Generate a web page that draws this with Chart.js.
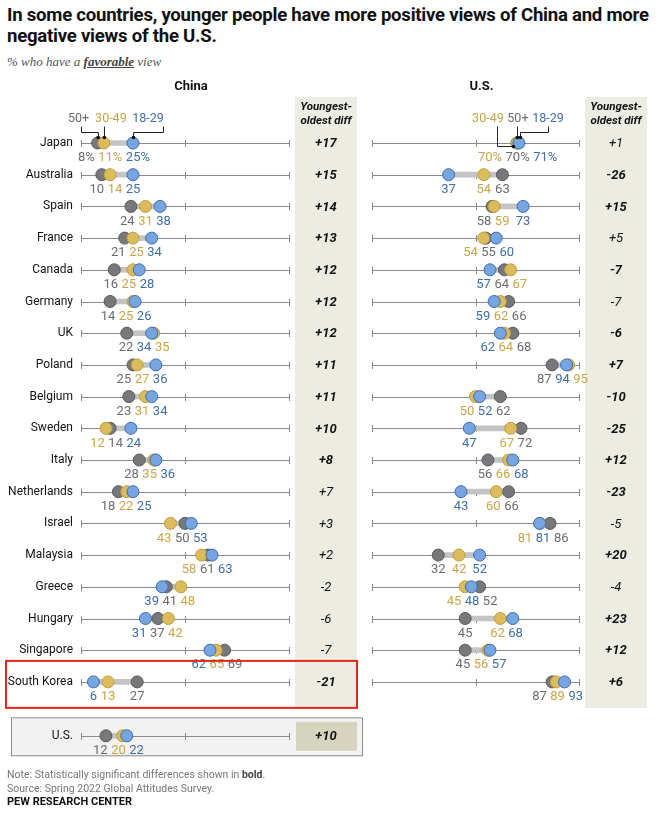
<!DOCTYPE html>
<html>
<head>
<meta charset="utf-8">
<script src="https://cdn.jsdelivr.net/npm/chart.js@4/dist/chart.umd.min.js"></script>
<style>
  body { margin: 0; background: #fff; width: 658px; height: 813px; position: relative; overflow: hidden; font-family: Roboto, "Liberation Sans", sans-serif; }
  #title { position: absolute; left: 7px; top: 5px; font-size: 18.6px; font-weight: bold; line-height: 21px; color: #111; letter-spacing: -0.25px; white-space: nowrap; }
  #subtitle { position: absolute; left: 7px; top: 54px; font-family: "Liberation Serif", "DejaVu Serif", serif; font-style: italic; font-size: 13px; color: #555; }
  #subtitle b { text-decoration: underline; color: #444; }
  #notes { position: absolute; left: 7px; top: 768px; font-size: 10.5px; line-height: 13.5px; color: #777; }
  #notes .pew { color: #111; font-weight: bold; font-size: 11px; }
  #notes b { color: #444; }
  canvas { position: absolute; top: 0; }
  #chinaChart { left: 0; }
  #usChart { left: 365px; }
</style>
</head>
<body>
<div id="title">In some countries, younger people have more positive views of China and more<br>negative views of the U.S.</div>
<div id="subtitle">% who have a <b>favorable</b> view</div>
<canvas id="chinaChart" width="365" height="813"></canvas>
<canvas id="usChart" width="293" height="813"></canvas>
<div id="notes">Note: Statistically significant differences shown in <b>bold</b>.<br>Source: Spring 2022 Global Attitudes Survey.<br><span class="pew">PEW RESEARCH CENTER</span></div>

<script>
// Países (filas) - el último lado China incluye la fila de EE.UU.
const countries = ['Japan', 'Australia', 'Spain', 'France', 'Canada', 'Germany', 'UK', 'Poland', 'Belgium',
  'Sweden', 'Italy', 'Netherlands', 'Israel', 'Malaysia', 'Greece', 'Hungary', 'Singapore', 'South Korea', 'U.S.'];

// Opinión favorable de China por edad
const chinaOld   = [8, 10, 24, 21, 16, 14, 22, 25, 23, 14, 28, 18, 50, 61, 41, 37, 69, 27, 12];   // 50+
const chinaMid   = [11, 14, 31, 25, 25, 25, 35, 27, 31, 12, 35, 22, 43, 58, 48, 42, 65, 13, 20];  // 30-49
const chinaYoung = [25, 25, 38, 34, 28, 26, 34, 36, 34, 24, 36, 25, 53, 63, 39, 31, 62, 6, 22];   // 18-29
const chinaDiff  = ['+17', '+15', '+14', '+13', '+12', '+12', '+12', '+11', '+11', '+10', '+8', '+7', '+3', '+2', '-2', '-6', '-7', '-21', '+10'];
const chinaSig   = [1, 1, 1, 1, 1, 1, 1, 1, 1, 1, 1, 0, 0, 0, 0, 0, 0, 1, 1];

// Opinión favorable de EE.UU. por edad
const usOld   = [70, 63, 58, 55, 64, 66, 68, 87, 62, 72, 56, 66, 86, 32, 52, 45, 45, 87];
const usMid   = [70, 54, 59, 54, 67, 62, 64, 95, 50, 67, 66, 60, 81, 42, 45, 62, 56, 89];
const usYoung = [71, 37, 73, 60, 57, 59, 62, 94, 52, 47, 68, 43, 81, 52, 48, 68, 57, 93];
const usDiff  = ['+1', '-26', '+15', '+5', '-7', '-7', '-6', '+7', '-10', '-25', '+12', '-23', '-5', '+20', '-4', '+23', '+12', '+6'];
const usSig   = [0, 1, 1, 0, 1, 0, 1, 1, 1, 1, 1, 1, 0, 1, 0, 1, 1, 1];

const axisTicks = [0, 50, 100];
const ageGroups = ['50+', '30-49', '18-29'];

// estilos
const ROW_H = 31.7, ROW0 = 143;
const Y_MIN = -3, Y_MAX = 20;
const US_ROW = 18.7; // fila separada de EE.UU.
const rowPos = i => (i < 18 ? i : US_ROW);

const GRAY = { fill: '#77787b', border: '#58595b', text: '#6b6c6f' };
const GOLD = { fill: '#dcbb5c', border: '#bf9d3e', text: '#c9a449' };
const BLUE = { fill: '#77a5df', border: '#3c6cad', text: '#3f6ea9' };
const BAND = '#ecece3';
const FONT = 'Roboto, "Liberation Sans", sans-serif';

function spread(items, gap) {
  items.sort((a, b) => a.x - b.x || a.rank - b.rank);
  items.forEach(it => it.p = it.x);
  for (let k = 0; k < 80; k++) {
    for (let j = 0; j < items.length - 1; j++) {
      const a = items[j], b = items[j + 1];
      const need = (a.w + b.w) / 2 + gap - (b.p - a.p);
      if (need > 0) { a.p -= need / 2; b.p += need / 2; }
    }
  }
}

function buildChart(canvasId, cfg) {
  const n = cfg.old.length;
  const idx = [...Array(n).keys()];

  const dots = (vals, col, order) => ({
    type: 'scatter',
    data: vals.map((v, i) => ({ x: v, y: rowPos(i) })),
    backgroundColor: col.fill,
    borderColor: col.border,
    borderWidth: 1,
    pointRadius: 6,
    pointHoverRadius: 6,
    order: order,
    clip: false
  });

  const rowsPlugin = {
    id: 'rows',
    beforeDatasetsDraw(chart) {
      const { ctx, chartArea } = chart;
      const x = chart.scales.x, y = chart.scales.y;
      ctx.save();
      // caja de EE.UU.
      if (cfg.usBox) {
        ctx.fillStyle = '#f2f2f2';
        ctx.strokeStyle = '#8c8c8c';
        ctx.lineWidth = 1;
        const top = y.getPixelForValue(US_ROW) - 18;
        ctx.fillRect(11.5, top, 351, 38);
        ctx.strokeRect(11.5, top, 351, 38);
      }
      // columna de diferencia
      const bx = chartArea.right + 6;
      ctx.fillStyle = BAND;
      const bandTop = 97;
      const bandBottom = y.getPixelForValue(17) + 26;
      ctx.fillRect(bx, bandTop, 62, bandBottom - bandTop);
      if (cfg.usBox) {
        ctx.fillStyle = '#d6d4bf';
        const yy = y.getPixelForValue(US_ROW);
        ctx.fillRect(bx + 1, yy - 14, 61, 29);
      }
      // ejes por fila
      ctx.strokeStyle = '#8a8a8a';
      ctx.lineWidth = 1;
      idx.forEach(i => {
        const yy = Math.round(y.getPixelForValue(rowPos(i))) + 0.5;
        ctx.beginPath();
        ctx.moveTo(x.getPixelForValue(0), yy);
        ctx.lineTo(x.getPixelForValue(100), yy);
        axisTicks.forEach(t => {
          const tx = Math.round(x.getPixelForValue(t)) + 0.5;
          ctx.moveTo(tx, yy - 3.5);
          ctx.lineTo(tx, yy + 3.5);
        });
        ctx.stroke();
      });
      ctx.restore();
    },
    afterDatasetsDraw(chart) {
      const { ctx, chartArea } = chart;
      const x = chart.scales.x, y = chart.scales.y;
      ctx.save();
      ctx.textBaseline = 'middle';

      // títulos
      ctx.fillStyle = '#111';
      ctx.font = 'bold 13px ' + FONT;
      ctx.textAlign = 'center';
      ctx.fillText(cfg.heading, (chartArea.left + chartArea.right) / 2 + 6, 87);
      const bc = chartArea.right + 6 + 31;
      ctx.font = 'italic bold 11.5px ' + FONT;
      ctx.fillText('Youngest-', bc, 107);
      ctx.fillText('oldest diff', bc, 121);

      idx.forEach(i => {
        const yy = y.getPixelForValue(rowPos(i));
        // nombre del país
        if (cfg.names) {
          ctx.fillStyle = '#111';
          ctx.font = '12px ' + FONT;
          ctx.textAlign = 'right';
          ctx.fillText(countries[i], chartArea.left - 8, yy);
        }
        // diferencia
        ctx.fillStyle = '#111';
        ctx.font = (cfg.sig[i] ? 'italic bold ' : 'italic ') + '13px ' + FONT;
        ctx.textAlign = 'center';
        ctx.fillText(cfg.diff[i], bc, yy + 1);

        // etiquetas de valor
        const suffix = i === 0 ? '%' : '';
        ctx.font = '13px ' + FONT;
        const items = [
          { v: cfg.mid[i], col: GOLD, rank: 0 },
          { v: cfg.old[i], col: GRAY, rank: 1 },
          { v: cfg.young[i], col: BLUE, rank: 2 }
        ].map(it => {
          const t = it.v + suffix;
          return { ...it, t, x: x.getPixelForValue(it.v), w: ctx.measureText(t).width };
        });
        spread(items, 3.5);
        items.forEach(it => {
          ctx.fillStyle = it.col.text;
          ctx.fillText(it.t, it.p, yy + 15);
        });
      });

      // leyenda de grupos de edad en la primera fila
      const y0 = y.getPixelForValue(0);
      const vals = [cfg.old[0], cfg.mid[0], cfg.young[0]];
      const cols = [GRAY, GOLD, BLUE];
      ctx.font = '12.5px ' + FONT;
      cfg.callouts.forEach((c, k) => {
        const dx = x.getPixelForValue(vals[k]);
        ctx.fillStyle = cols[k].text;
        ctx.textAlign = 'center';
        ctx.fillText(ageGroups[k], dx + c.tx, 119);
        ctx.strokeStyle = '#222';
        ctx.lineWidth = 1;
        ctx.beginPath();
        c.path.forEach(([px, py], j) => {
          const X = Math.round(dx + px) + 0.5, Y = Math.round(y0 + py) + 0.5;
          if (j === 0) ctx.moveTo(X, Y); else ctx.lineTo(X, Y);
        });
        ctx.stroke();
        const [ex, ey] = c.path[c.path.length - 1];
        ctx.fillStyle = '#111';
        ctx.beginPath();
        ctx.arc(dx + ex + 0.5, y0 + ey + 0.5, 1.8, 0, Math.PI * 2);
        ctx.fill();
      });

      // recuadro rojo de Corea del Sur
      if (cfg.redBox) {
        const yk = y.getPixelForValue(17);
        ctx.strokeStyle = '#e3261d';
        ctx.lineWidth = 2;
        ctx.strokeRect(6, yk - 21, 351, 47);
      }
      ctx.restore();
    }
  };

  return new Chart(document.getElementById(canvasId), {
    type: 'scatter',
    data: {
      datasets: [
        {
          type: 'bar',
          indexAxis: 'y',
          data: idx.map(i => ({
            x: [Math.min(cfg.old[i], cfg.mid[i], cfg.young[i]), Math.max(cfg.old[i], cfg.mid[i], cfg.young[i])],
            y: rowPos(i)
          })),
          backgroundColor: '#c4c4c4',
          barThickness: 5,
          order: 4,
          clip: false
        },
        dots(cfg.old, GRAY, 3),
        dots(cfg.mid, GOLD, 2),
        dots(cfg.young, BLUE, 1)
      ]
    },
    options: {
      responsive: false,
      animation: false,
      events: [],
      layout: {
        autoPadding: false,
        padding: {
          left: cfg.padLeft,
          right: cfg.padRight,
          top: ROW0 + Y_MIN * ROW_H,
          bottom: 813 - (ROW0 + Y_MAX * ROW_H)
        }
      },
      plugins: { legend: { display: false }, tooltip: { enabled: false } },
      scales: {
        x: { type: 'linear', min: 0, max: 100, display: false, offset: false },
        y: { type: 'linear', min: Y_MIN, max: Y_MAX, reverse: true, display: false, offset: false, beginAtZero: false }
      }
    },
    plugins: [rowsPlugin]
  });
}

buildChart('chinaChart', {
  heading: 'China',
  old: chinaOld, mid: chinaMid, young: chinaYoung,
  diff: chinaDiff, sig: chinaSig,
  padLeft: 81, padRight: 76,
  names: true, usBox: true, redBox: true,
  callouts: [
    { tx: -19, path: [[-17, -17], [-17, -11], [0, -11], [0, -6]] },
    { tx: 7, path: [[0, -17], [0, -6]] },
    { tx: 15, path: [[30, -17], [30, -11], [0, -11], [0, -6]] }
  ]
});

buildChart('usChart', {
  heading: 'U.S.',
  old: usOld, mid: usMid, young: usYoung,
  diff: usDiff, sig: usSig,
  padLeft: 7, padRight: 79,
  names: false, usBox: false, redBox: false,
  callouts: [
    { tx: 1, path: [[0, -17], [0, -6]] },
    { tx: -29, path: [[-20, -17], [-20, 3], [-4, 3]] },
    { tx: 29, path: [[29, -17], [29, -11], [1, -11], [1, -6]] }
  ]
});
</script>
</body>
</html>
